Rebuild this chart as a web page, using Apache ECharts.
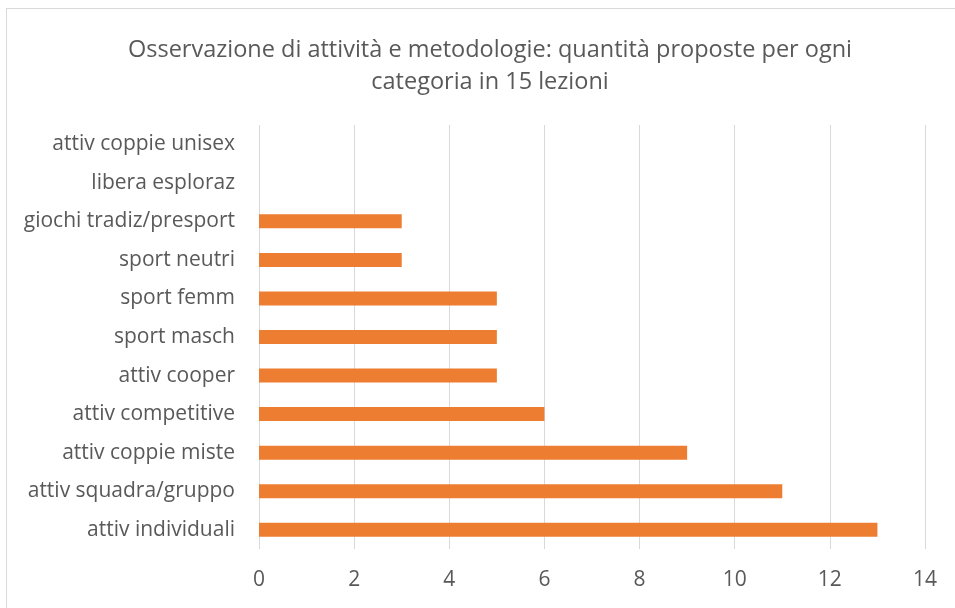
<!DOCTYPE html>
<html>
<head>
<meta charset="utf-8">
<script src="https://cdn.jsdelivr.net/npm/echarts@6/dist/echarts.min.js"></script>
<style>
  html, body { margin: 0; padding: 0; background: #fff; overflow: hidden; }
  #frame { position: absolute; left: 6px; top: 8px; width: 980px; height: 640px; border: 1px solid #d9d9d9; }
  #chart { position: absolute; left: 0; top: 0; width: 955px; height: 608px; }
</style>
</head>
<body>
<div id="frame"></div>
<div id="chart"></div>
<script>
// categories listed bottom -> top, as in the spreadsheet
const categories = [
  'attiv individuali',
  'attiv squadra/gruppo',
  'attiv coppie miste',
  'attiv competitive',
  'attiv cooper',
  'sport masch',
  'sport femm',
  'sport neutri',
  'giochi tradiz/presport',
  'libera esploraz',
  'attiv coppie unisex'
]
const values = [13, 11, 9, 6, 5, 5, 5, 3, 3, 0, 0]
const xTicks = [0, 2, 4, 6, 8, 10, 12, 14]

const FONT = '"Open Sans", "Noto Sans", sans-serif'
const INK = '#595959'

const chart = echarts.init(document.getElementById('chart'))
chart.setOption({
  animation: false,
  title: {
    text: 'Osservazione di attività e metodologie: quantità proposte per ogni\ncategoria in 15 lezioni',
    left: 485,
    top: 29,
    textAlign: 'center',
    textStyle: { color: INK, fontFamily: FONT, fontSize: 23.5, fontWeight: 'normal', lineHeight: 32 }
  },
  grid: { left: 259, right: 30, top: 125, bottom: 59, containLabel: false, outerBoundsMode: 'none' },
  xAxis: {
    type: 'value',
    min: xTicks[0],
    max: xTicks[xTicks.length - 1],
    interval: 2,
    axisLine: { show: false },
    axisTick: { show: false },
    axisLabel: { color: INK, fontFamily: FONT, fontSize: 21, margin: 21 },
    splitLine: { lineStyle: { color: '#d9d9d9', width: 1 } }
  },
  yAxis: {
    type: 'category',
    data: categories,
    axisLine: { show: false },
    axisTick: { show: false },
    axisLabel: { color: INK, fontFamily: FONT, fontSize: 21, margin: 24 }
  },
  series: [{
    type: 'bar',
    data: values,
    barWidth: 14,
    itemStyle: { color: '#ED7D31' }
  }]
})
</script>
</body>
</html>
